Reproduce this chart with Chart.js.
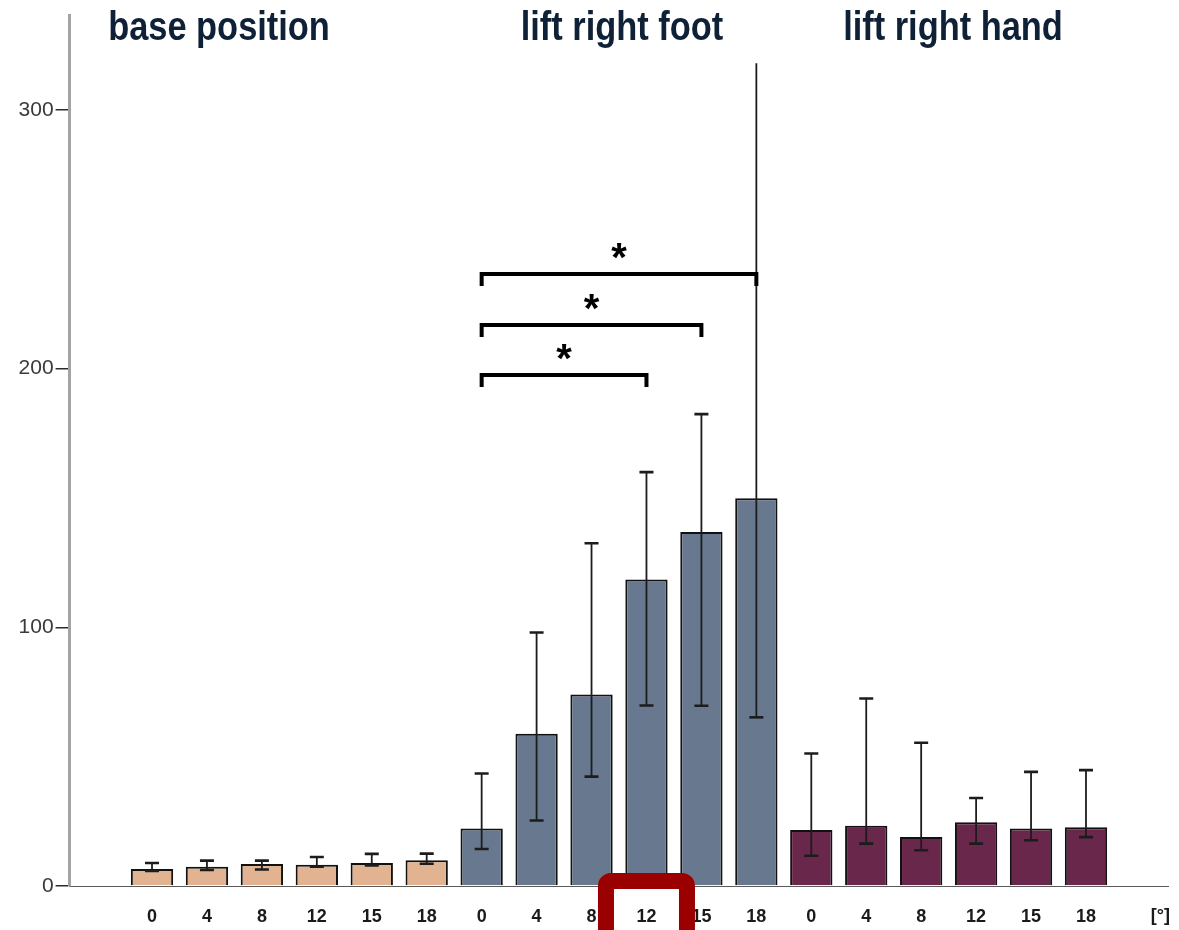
<!DOCTYPE html>
<html>
<head>
<meta charset="utf-8">
<script src="https://cdn.jsdelivr.net/npm/chart.js@4.4.1/dist/chart.umd.min.js"></script>
<style>
  html, body { margin: 0; padding: 0; background: #fff; }
  #wrap { width: 1179px; height: 930px; position: relative; }
</style>
</head>
<body>
<div id="wrap"><canvas id="chart"></canvas></div>
<script>
// --- Data ---
const angleLabels = ['0', '4', '8', '12', '15', '18'];
const groupNames = ['base position', 'lift right foot', 'lift right hand'];
const groupColors = ['#e1b391', '#68798f', '#6a274c'];

const baseMean = [6.6, 7.4, 8.5, 8.2, 8.9, 10.0];
const baseLow  = [5.8, 6.2, 6.4, 7.5, 7.9, 8.6];
const baseHigh = [8.9, 9.8, 9.8, 11.2, 12.4, 12.5];

const footMean = [22.2, 58.9, 74.0, 118.5, 136.8, 149.9];
const footLow  = [14.3, 25.3, 42.3, 69.8, 69.7, 65.2];
const footHigh = [43.5, 98.0, 132.5, 160.0, 182.4, 319];

const handMean = [21.6, 23.3, 18.9, 24.6, 22.2, 22.7];
const handLow  = [11.7, 16.4, 13.8, 16.4, 17.7, 18.9];
const handHigh = [51.2, 72.5, 55.4, 34.0, 44.1, 44.8];

const yTicks = [0, 100, 200, 300];
const yMax = 336.7;
const errClip = 318;   // error bars reaching this are cut off (no cap)

// significance brackets inside "lift right foot" (indices within the group)
const sigFrom  = [0, 0, 0];
const sigTo    = [5, 4, 3];
const sigLevel = [236.6, 216.9, 197.5];
const sigMark  = ['*', '*', '*'];

const unitLabel = '[°]';
const highlightGroup = 1;   // red frame around "12" of lift right foot
const highlightAngle = 3;

// --- Build the category table: one empty slot before, one after ---
const labels = [''];
const means = [null], lows = [null], highs = [null], colors = ['#fff'];
[[baseMean, baseLow, baseHigh], [footMean, footLow, footHigh], [handMean, handLow, handHigh]]
    .forEach(([m, lo, hi], g) => {
        angleLabels.forEach((a, i) => {
            labels.push(a);
            means.push(m[i]);
            lows.push(lo[i]);
            highs.push(hi[i]);
            colors.push(groupColors[g]);
        });
    });
labels.push('');
means.push(null); lows.push(null); highs.push(null); colors.push('#fff');

const idx = (g, i) => 1 + g * angleLabels.length + i;

// --- Error bars, brackets, headers, frame ---
const extrasPlugin = {
    id: 'extras',
    afterDatasetsDraw(chart) {
        const ctx = chart.ctx, x = chart.scales.x, y = chart.scales.y;
        ctx.save();
        ctx.strokeStyle = '#1c1c1c';
        means.forEach((m, i) => {
            if (m === null) return;
            const px = x.getPixelForValue(i);
            const top = Math.min(highs[i], errClip);
            const yHi = y.getPixelForValue(top), yLo = y.getPixelForValue(lows[i]);
            ctx.lineWidth = 1.8;
            ctx.beginPath();
            ctx.moveTo(px, yHi); ctx.lineTo(px, yLo);
            ctx.stroke();
            ctx.lineWidth = 2.6;
            ctx.beginPath();
            if (highs[i] < errClip) { ctx.moveTo(px - 7, yHi); ctx.lineTo(px + 7, yHi); }
            ctx.moveTo(px - 7, yLo); ctx.lineTo(px + 7, yLo);
            ctx.stroke();
        });

        // significance brackets
        ctx.strokeStyle = '#000';
        ctx.fillStyle = '#000';
        ctx.lineWidth = 4;
        ctx.lineCap = 'butt';
        ctx.textAlign = 'center';
        ctx.textBaseline = 'alphabetic';
        ctx.font = 'bold 40px "Liberation Sans", Arial, sans-serif';
        sigLevel.forEach((lv, k) => {
            const x1 = x.getPixelForValue(idx(1, sigFrom[k]));
            const x2 = x.getPixelForValue(idx(1, sigTo[k]));
            const py = y.getPixelForValue(lv);
            ctx.beginPath();
            ctx.moveTo(x1, py + 12);
            ctx.lineTo(x1, py);
            ctx.lineTo(x2, py);
            ctx.lineTo(x2, py + 12);
            ctx.stroke();
            ctx.fillText(sigMark[k], (x1 + x2) / 2, py - 3);
        });
        ctx.restore();
    },
    afterDraw(chart) {
        const ctx = chart.ctx, x = chart.scales.x, area = chart.chartArea;
        ctx.save();
        // group headers (condensed bold)
        const headerX = [219, 622, 953];
        ctx.fillStyle = '#0f2136';
        ctx.font = 'bold 40px "Liberation Sans", Arial, sans-serif';
        ctx.textAlign = 'center';
        ctx.textBaseline = 'alphabetic';
        groupNames.forEach((name, g) => {
            ctx.save();
            ctx.translate(headerX[g], 40);
            ctx.scale(0.86, 1);
            ctx.fillText(name, 0, 0);
            ctx.restore();
        });

        // unit label at the end of the axis
        ctx.fillStyle = '#1a1a1a';
        ctx.font = 'bold 18px "Liberation Sans", Arial, sans-serif';
        ctx.textBaseline = 'middle';
        ctx.fillText(unitLabel, area.right - 8, 916);

        // red frame
        const cx = x.getPixelForValue(idx(highlightGroup, highlightAngle));
        ctx.strokeStyle = '#9a0000';
        ctx.lineWidth = 16;
        ctx.beginPath();
        ctx.roundRect(cx - 40.5, area.bottom - 5, 81, 120, 5);
        ctx.stroke();
        ctx.restore();
    }
};

new Chart(document.getElementById('chart'), {
    type: 'bar',
    data: {
        labels: labels,
        datasets: [{
            data: means,
            backgroundColor: colors,
            borderColor: '#111',
            borderWidth: 2,
            categoryPercentage: 1,
            barPercentage: 0.77
        }]
    },
    options: {
        responsive: true,
        maintainAspectRatio: false,
        animation: false,
        layout: { padding: { top: 15, right: 10.6, left: 0, bottom: 0 } },
        plugins: { legend: { display: false }, tooltip: { enabled: false } },
        scales: {
            x: {
                grid: { display: false, drawTicks: false },
                border: { color: '#5a5a5a', width: 1 },
                ticks: {
                    padding: 20,
                    autoSkip: false,
                    maxRotation: 0,
                    color: '#1a1a1a',
                    font: { family: '"Liberation Sans", Arial, sans-serif', size: 18, weight: 'bold' }
                },
                afterFit: s => { s.height = 44; }
            },
            y: {
                min: 0,
                max: yMax,
                afterBuildTicks: s => { s.ticks = yTicks.map(v => ({ value: v })); },
                grid: { display: true, drawOnChartArea: false, drawTicks: true, tickLength: 14, color: '#2a2a2a', lineWidth: 1.5 },
                border: { color: '#a3a3a3', width: 3 },
                ticks: {
                    padding: 2,
                    color: '#3a3a3a',
                    font: { family: '"Liberation Sans", Arial, sans-serif', size: 21 }
                },
                afterFit: s => { s.width = 69.6; }
            }
        }
    },
    plugins: [extrasPlugin]
});
</script>
</body>
</html>
